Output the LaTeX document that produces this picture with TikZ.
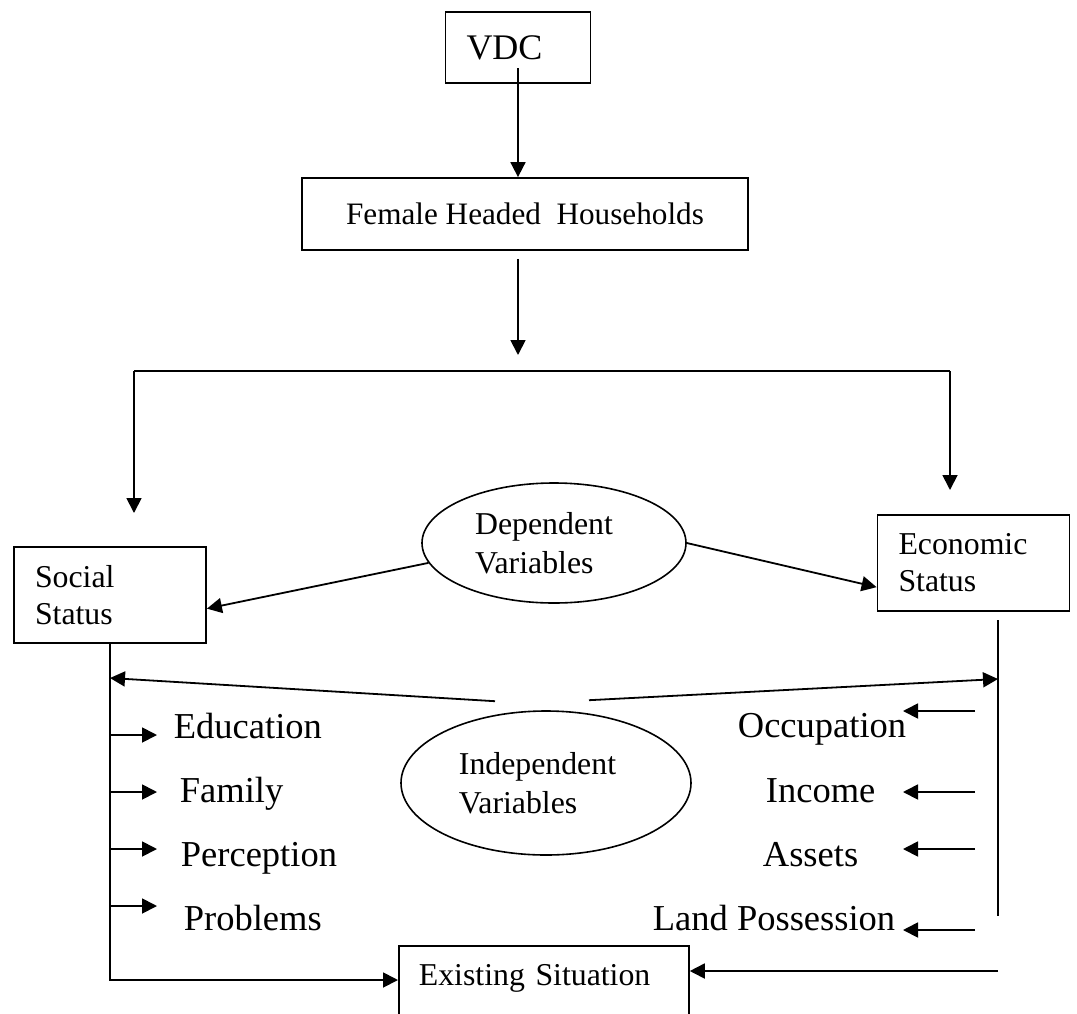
\documentclass[tikz,border=0pt]{standalone}
\usepackage{fontspec}
\setmainfont{Liberation Serif}
\usetikzlibrary{arrows.meta,positioning,calc,shapes.geometric}

\begin{document}
\begin{tikzpicture}[x=0.5pt, y=-0.5pt, line width=0.9pt, >={Triangle[length=7.5pt, width=7.5pt]},
  box/.style={draw, inner sep=0pt, align=center},
  stat/.style={draw, align=left, text width=75pt, inner xsep=10.5pt, minimum height=48pt,
               font=\fontsize{15.9}{18.5}\selectfont},
  var/.style={draw, ellipse, inner sep=0pt, align=left, line width=0.8pt,
              font=\fontsize{15.9}{19.5}\selectfont},
  item/.style={anchor=base west, inner sep=0pt, font=\fontsize{18.25}{22}\selectfont},
  flow/.style={->}]
\useasboundingbox (0,0) rectangle (1077,1013);
% top chain
\node[box, align=left, text width=51.5pt, inner xsep=10.5pt, minimum height=35.5pt,
      font=\fontsize{18}{22}\selectfont] (vdc) at (518,47.5) {VDC};
\node[box, minimum width=223pt, minimum height=36pt, font=\fontsize{15.6}{19}\selectfont]
      (fhh) at (525,214) {Female Headed~ Households};
\coordinate (fork) at (518,355);
\coordinate (brL) at (134,371);
\coordinate (brR) at (950,371);
\draw[flow] ($(vdc.center)+(0,20.5)$) -- (fhh.north -| vdc.center);
\draw[flow] ($(fhh.south -| vdc.center)+(0,8)$) -- (fork);
\draw (brL) -- (brR);
\draw[flow] (brL) -- ++(0,142);
\draw[flow] (brR) -- ++(0,119);
% status boxes and dependent variables
\node[stat] (soc) at (110,595) {Social\\Status};
\node[stat] (eco) at (973.5,563) {Economic\\Status};
\node[var, minimum width=132pt, minimum height=60pt] (dep) at (554,543)
      {Dependent\hspace*{10pt}\\Variables};
\draw[flow] (dep.189) -- (soc.-8);
\draw[flow] (dep.east) -- (eco.194);
% independent variables
\node[var, minimum width=145pt, minimum height=72pt] (ind) at (546,783)
      {Independent\hspace*{8.5pt}\\Variables};
\node[box, anchor=north west, align=left, text width=125pt, inner xsep=10pt, inner ysep=9pt,
      text height=11pt, text depth=70pt, font=\fontsize{15.9}{19}\selectfont]
      (ext) at (398,945) {Existing Situation};
\coordinate (rtop) at (998,620);
\coordinate (rbot) at (998,916);
\coordinate (ltip) at (157,0);
\coordinate (rtail) at (975,0);
\coordinate (rtip) at (903,0);
\draw[flow] ($(ind.north)+(-51,-9)$) -- (soc.south |- 0,678);
\draw[flow] ($(ind.north)+(43,-10)$) -- (rtop |- 0,679);
\draw (rtop) -- (rbot);
% social items
\node[item] (edu) at (173,738) {Education};
\node[item] (fam) at (179,802) {Family};
\node[item] (per) at (180,866) {Perception};
\node[item] (prb) at (183,930) {Problems};
\foreach \ay in {735,792,849,906}
  \draw[flow] (soc.south |- 0,\ay) -- (ltip |- 0,\ay);
% economic items
\node[item] (occ) at (737,737) {Occupation};
\node[item] (inc) at (765,802) {Income};
\node[item] (ast) at (762,866) {Assets};
\node[item] (lnd) at (652,930) {Land Possession};
\foreach \ay in {711,792,849,930}
  \draw[flow] (rtail |- 0,\ay) -- (rtip |- 0,\ay);
% into existing situation
\draw[flow] (soc.south) |- ($(ext.north west)+(0,35)$);
\draw[flow] (rtop |- 0,971) -- ($(ext.north east)+(0,26)$);
\end{tikzpicture}
\end{document}
